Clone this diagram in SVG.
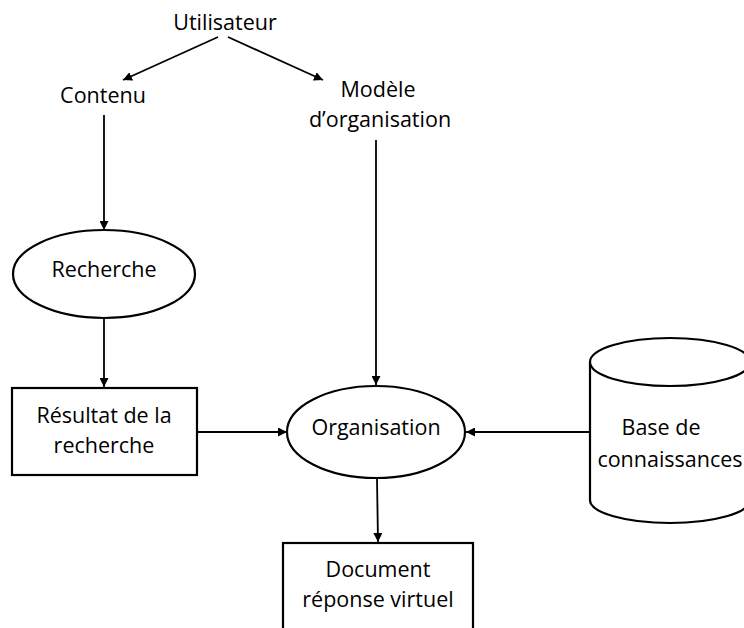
<svg xmlns="http://www.w3.org/2000/svg" width="744" height="628" viewBox="0 0 744 628">
<style>
text{font-family:"Open Sans","Liberation Sans",sans-serif;font-size:21.5px;fill:#000;text-anchor:middle}
.s{fill:#fff;stroke:#000;stroke-width:2.2}
.c{fill:none;stroke:#000;stroke-width:1.8}
</style>
<defs>
<marker id="ah" viewBox="0 0 10 10" refX="10" refY="5" markerWidth="5" markerHeight="5" orient="auto" markerUnits="strokeWidth">
<path d="M0,0 L10,5 L0,10 z" fill="#000"/>
</marker>
</defs>
<rect width="744" height="628" fill="#fff"/>
<g id="connectors">
<line class="c" x1="218" y1="37" x2="123" y2="80" marker-end="url(#ah)"/>
<line class="c" x1="228" y1="37" x2="323" y2="80" marker-end="url(#ah)"/>
<line class="c" x1="104" y1="115" x2="104" y2="230" marker-end="url(#ah)"/>
<line class="c" x1="104" y1="319" x2="104" y2="387" marker-end="url(#ah)"/>
<line class="c" x1="376" y1="140" x2="376" y2="385" marker-end="url(#ah)"/>
<line class="c" x1="197" y1="432" x2="287" y2="432" marker-end="url(#ah)"/>
<line class="c" x1="590" y1="432" x2="466" y2="432" marker-end="url(#ah)"/>
<line class="c" x1="377" y1="479" x2="378" y2="542" marker-end="url(#ah)"/>
</g>
<g id="utilisateur"><text x="225" y="30">Utilisateur</text></g>
<g id="contenu"><text x="103" y="103">Contenu</text></g>
<g id="modele"><text x="378" y="97">Modèle</text><text x="380" y="127">d’organisation</text></g>
<g id="recherche"><ellipse class="s" cx="104" cy="274" rx="91" ry="44"/><text x="104" y="277">Recherche</text></g>
<g id="resultat"><rect class="s" x="12" y="388" width="185" height="87"/><text x="104" y="423">Résultat de la</text><text x="104" y="453">recherche</text></g>
<g id="organisation"><ellipse class="s" cx="376" cy="432" rx="89" ry="46"/><text x="376" y="435">Organisation</text></g>
<g id="base">
<path class="s" d="M590,362 L590,500 A80,23 0 0 0 750,500 L750,362"/>
<ellipse class="s" cx="670" cy="362" rx="80" ry="24"/>
<text x="661" y="435">Base de</text><text x="670" y="467">connaissances</text>
</g>
<g id="document"><rect class="s" x="283" y="543" width="190" height="100"/><text x="378" y="577">Document</text><text x="378" y="607">réponse virtuel</text></g>
</svg>
